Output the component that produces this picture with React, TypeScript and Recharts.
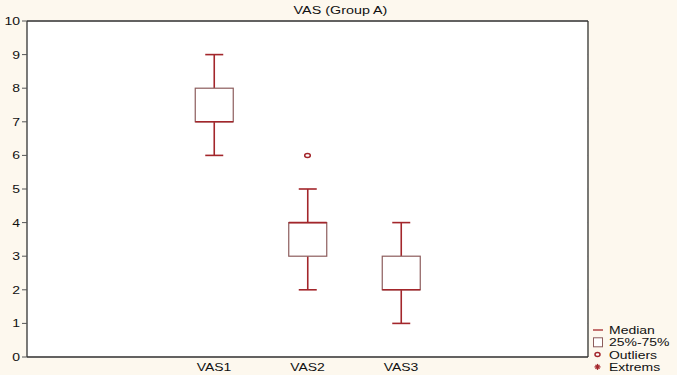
import React from 'react';
import { ComposedChart, Bar, Scatter, XAxis, YAxis, CartesianGrid } from 'recharts';

// box plot stats per variable
const categories = ['VAS1', 'VAS2', 'VAS3'];
const positions = [2, 3, 4];
const mins = [6, 2, 1];
const q1s = [7, 3, 2];
const medians = [7, 4, 2];
const q3s = [8, 4, 3];
const maxs = [9, 5, 4];

const outlierCategory = ['VAS2'];
const outlierValues = [6];

const xTicks = [1, 2, 3, 4, 5];
const yTicks = [0, 1, 2, 3, 4, 5, 6, 7, 8, 9, 10];

const legendLabels = ['Median', '25%-75%', 'Outliers', 'Extrems'];

const data = categories.map((name, i) => ({
  name,
  x: positions[i],
  min: mins[i],
  q1: q1s[i],
  median: medians[i],
  q3: q3s[i],
  max: maxs[i],
}));

const outliers = outlierCategory.map((name, i) => ({
  x: positions[categories.indexOf(name)],
  y: outlierValues[i],
}));

const WHISKER = '#a3262b';
const BOX = '#8c5c5c';
const FONT = '"Liberation Sans", Arial, sans-serif';
const STRETCH = 1.27; // source text is drawn wide

const labelFor = (v: number) => {
  const i = positions.indexOf(v);
  return i >= 0 ? categories[i] : '';
};

const XTick = (props: any) => {
  const { x, y, payload } = props;
  return (
    <text
      transform={`translate(${x},${y}) scale(${STRETCH},1)`}
      textAnchor="middle"
      dy="0.71em"
      fontSize={11}
      fontFamily={FONT}
      fill="#111"
    >
      {labelFor(payload.value)}
    </text>
  );
};

const YTick = (props: any) => {
  const { x, y, payload } = props;
  return (
    <text
      transform={`translate(${x},${y}) scale(${STRETCH},1)`}
      textAnchor="end"
      dy="0.355em"
      fontSize={11}
      fontFamily={FONT}
      fill="#111"
    >
      {payload.value}
    </text>
  );
};

const BoxShape = (props: any) => {
  const { x, y, width, height, payload } = props;
  const { min, q1, median, q3, max } = payload;
  const py = (v: number) => y + ((max - v) / (max - min)) * height;
  const cx = x + width / 2;
  const cap = 9;
  return (
    <g>
      <line x1={cx} x2={cx} y1={py(max)} y2={py(q3)} stroke={WHISKER} strokeWidth={1.6} />
      <line x1={cx} x2={cx} y1={py(q1)} y2={py(min)} stroke={WHISKER} strokeWidth={1.6} />
      <line x1={cx - cap} x2={cx + cap} y1={py(max)} y2={py(max)} stroke={WHISKER} strokeWidth={1.6} />
      <line x1={cx - cap} x2={cx + cap} y1={py(min)} y2={py(min)} stroke={WHISKER} strokeWidth={1.6} />
      <rect x={x} y={py(q3)} width={width} height={py(q1) - py(q3)} fill="#fff" stroke={BOX} strokeWidth={1.2} />
      <line x1={x} x2={x + width} y1={py(median)} y2={py(median)} stroke={WHISKER} strokeWidth={1.6} />
    </g>
  );
};

const OutlierShape = (props: any) => (
  <ellipse cx={props.cx} cy={props.cy} rx={2.8} ry={2} fill="#fff" stroke={WHISKER} strokeWidth={1.5} />
);

const Legend = () => {
  const rowY = [10, 22.3, 34.6, 46.9];
  return (
    <svg width={92} height={55} style={{ position: 'absolute', left: 585, top: 320 }}>
      <line x1={8} x2={18} y1={rowY[0]} y2={rowY[0]} stroke="#b04545" strokeWidth={1.5} />
      <rect x={8.5} y={rowY[1] - 4.5} width={9} height={9} fill="#fff" stroke={BOX} strokeWidth={1} />
      <ellipse cx={12.5} cy={rowY[2]} rx={2.5} ry={2} fill="#fff" stroke={WHISKER} strokeWidth={1.5} />
      <g stroke={WHISKER} strokeWidth={1.3}>
        <line x1={9.5} x2={15.5} y1={rowY[3]} y2={rowY[3]} />
        <line x1={12.5} x2={12.5} y1={rowY[3] - 3} y2={rowY[3] + 3} />
        <line x1={10.5} x2={14.5} y1={rowY[3] - 2} y2={rowY[3] + 2} />
        <line x1={14.5} x2={10.5} y1={rowY[3] - 2} y2={rowY[3] + 2} />
      </g>
      {legendLabels.map((label, i) => (
        <text
          key={label}
          transform={`translate(24,${rowY[i]}) scale(${STRETCH},1)`}
          dy="0.355em"
          fontSize={11}
          fontFamily={FONT}
          fill="#111"
        >
          {label}
        </text>
      ))}
    </svg>
  );
};

export default function App() {
  return (
    <div style={{ position: 'absolute', left: 0, top: 0, width: 677, height: 375, background: '#fdf8ee', fontFamily: FONT }}>
      <ComposedChart
        width={677}
        height={375}
        data={data}
        margin={{ top: 21, right: 89, bottom: 0, left: 0 }}
        style={{ position: 'absolute', left: 0, top: 0 }}
      >
        <text
          transform={`translate(340.5,10) scale(${STRETCH},1)`}
          textAnchor="middle"
          dy="0.355em"
          fontSize={11.3}
          fontFamily={FONT}
          fill="#111"
        >
          VAS (Group A)
        </text>
        <rect x={27} y={22} width={560} height={334} fill="#fff" />
        <CartesianGrid vertical={false} stroke="#e6e6e6" horizontalValues={yTicks} />
        <XAxis
          xAxisId="ticks"
          dataKey="x"
          type="number"
          domain={[0, 6]}
          ticks={xTicks}
          height={1}
          mirror
          tick={false}
          tickSize={3}
          axisLine={false}
          tickLine={{ stroke: '#333' }}
        />
        <XAxis
          dataKey="x"
          type="number"
          domain={[0, 6]}
          ticks={xTicks}
          height={18}
          tickSize={0}
          tickMargin={6}
          axisLine={{ stroke: '#333', strokeWidth: 1.3 }}
          tick={<XTick />}
        />
        <XAxis
          xAxisId="top"
          orientation="top"
          dataKey="x"
          type="number"
          domain={[0, 6]}
          ticks={xTicks}
          height={1}
          mirror
          tick={false}
          tickSize={3}
          axisLine={{ stroke: '#333', strokeWidth: 1.3 }}
          tickLine={{ stroke: '#333' }}
        />
        <YAxis
          type="number"
          domain={[0, 10]}
          ticks={yTicks}
          width={27}
          tickSize={5}
          tickMargin={2}
          interval={0}
          axisLine={{ stroke: '#333', strokeWidth: 1.3 }}
          tickLine={{ stroke: '#555' }}
          tick={<YTick />}
        />
        <YAxis
          yAxisId="right"
          orientation="right"
          type="number"
          domain={[0, 10]}
          ticks={yTicks}
          width={1}
          mirror
          tick={false}
          tickSize={3}
          axisLine={{ stroke: '#333', strokeWidth: 1.3 }}
          tickLine={{ stroke: '#333' }}
        />
        <Bar
          dataKey={(d: any) => [d.min, d.max]}
          barSize={38}
          shape={BoxShape}
          isAnimationActive={false}
        />
        <Scatter data={outliers} dataKey="y" shape={OutlierShape} isAnimationActive={false} />
      </ComposedChart>
      <Legend />
    </div>
  );
}
